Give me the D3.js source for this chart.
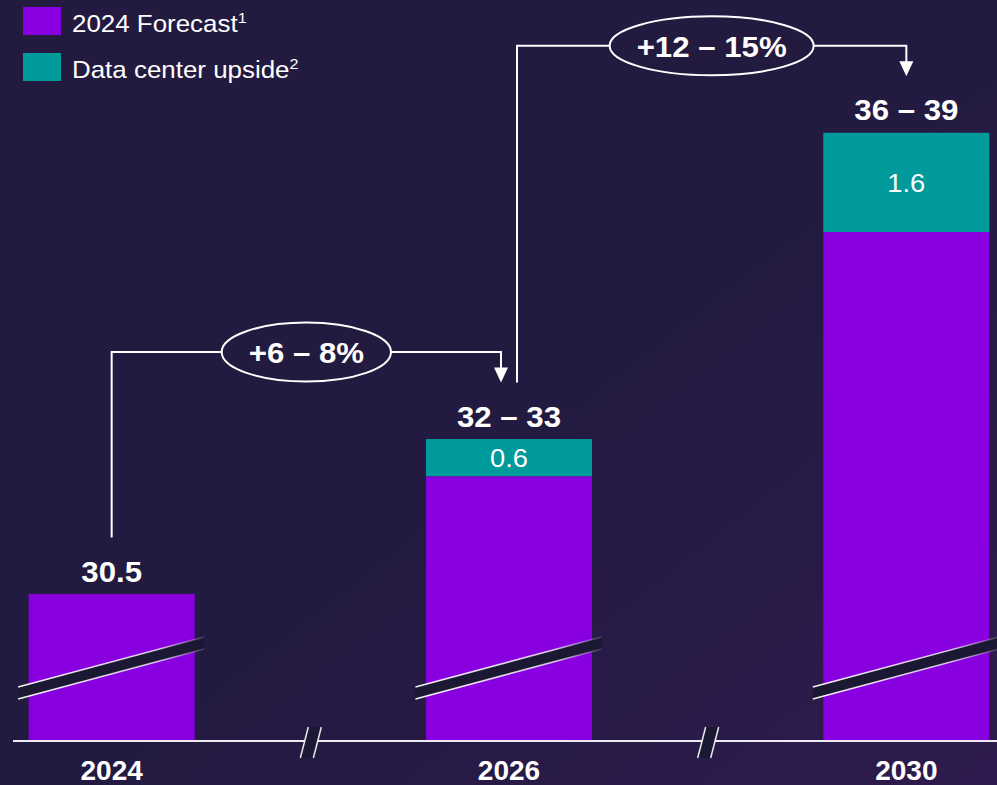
<!DOCTYPE html>
<html>
<head>
<meta charset="utf-8">
<script src="https://cdn.jsdelivr.net/npm/d3@7/dist/d3.min.js"></script>
<style>
  html, body { margin: 0; padding: 0; background: #231a40; }
  svg { display: block; }
  text { font-family: "Liberation Sans", Arial, sans-serif; fill: #ffffff; }
</style>
</head>
<body>
<svg id="chart" width="997" height="785"></svg>
<script>
// Categories and series
const years = ["2024", "2026", "2030"];
const forecast = [30.5, 32.4, 36.34];      // 2024 forecast, base demand
const upside = [0, 0.6, 1.6];              // data center upside on top
const totalLabels = ["30.5", "32 – 33", "36 – 39"];
const growthLabels = ["+6 – 8%", "+12 – 15%"];
const seriesNames = ["2024 Forecast", "Data center upside"];
const seriesNotes = ["1", "2"];

const W = 997, H = 785;
const colors = { forecast: "#8800e0", upside: "#009a9a", bg: "#231a40", breakFill: "#1b1833", line: "#ffffff" };

const svg = d3.select("#chart");

// Places a text at (x, y) with a slight horizontal widening
function placeText(sel, px, py, sx) {
  return sel.attr("x", 0).attr("y", 0).attr("transform", `translate(${px},${py}) scale(${sx},1)`);
}

// Background with a faint lift toward the lower right
const defs = svg.append("defs");
const bgGrad = defs.append("linearGradient").attr("id", "bg").attr("x1", "0").attr("y1", "0").attr("x2", "1").attr("y2", "1");
bgGrad.append("stop").attr("offset", "0").attr("stop-color", "#231a40");
bgGrad.append("stop").attr("offset", "0.55").attr("stop-color", "#231a41");
bgGrad.append("stop").attr("offset", "1").attr("stop-color", "#2f1b4f");
svg.append("rect").attr("width", W).attr("height", H).attr("fill", "url(#bg)");

const edgeGrad = defs.append("linearGradient").attr("id", "edge").attr("x1", "0").attr("x2", "1");
edgeGrad.append("stop").attr("offset", "0").attr("stop-color", "#fff").attr("stop-opacity", 0.95);
edgeGrad.append("stop").attr("offset", "0.75").attr("stop-color", "#fff").attr("stop-opacity", 0.75);
edgeGrad.append("stop").attr("offset", "1").attr("stop-color", "#fff").attr("stop-opacity", 0.15);

// Scales (value axis is truncated, shown by the break marks)
const x = d3.scaleBand().domain(years).range([-87, 1105]).paddingInner(0.582).paddingOuter(0.291);
const y = d3.scaleLinear().domain([28.13, 38.03]).range([741, 127.2]);
const cx = d => x(d) + x.bandwidth() / 2;

const data = years.map((yr, i) => ({ year: yr, base: forecast[i], up: upside[i], total: forecast[i] + upside[i], label: totalLabels[i] }));

// Bars
const g = svg.append("g");
g.selectAll("rect.base").data(data).join("rect")
  .attr("x", d => x(d.year)).attr("width", x.bandwidth())
  .attr("y", d => y(d.base)).attr("height", d => y.range()[0] - y(d.base))
  .attr("fill", colors.forecast);

g.selectAll("rect.up").data(data.filter(d => d.up > 0)).join("rect")
  .attr("x", d => x(d.year)).attr("width", x.bandwidth())
  .attr("y", d => y(d.total)).attr("height", d => y(d.base) - y(d.total))
  .attr("fill", colors.upside);

data.filter(d => d.up > 0).forEach(d => {
  const t = g.append("text").attr("text-anchor", "middle").attr("font-size", 26)
    .text(d3.format(".1f")(d.up));
  placeText(t, cx(d.year), (y(d.base) + y(d.total)) / 2 + 9.5, 1.05);
});

// Slanted break bands across each bar
const bandThick = 12, bandRise = 50;
data.forEach(d => {
  const x0 = x(d.year) - 10.5, x1 = x(d.year) + x.bandwidth() + 9.5;
  const yL = 687, yR = yL - bandRise;
  g.append("path")
    .attr("d", `M${x0},${yL} L${x1},${yR} L${x1},${yR + bandThick} L${x0},${yL + bandThick} Z`)
    .attr("fill", colors.breakFill);
  [0, bandThick].forEach(off => {
    g.append("line")
      .attr("x1", x0).attr("y1", yL + off).attr("x2", x1).attr("y2", yR + off + 0.01)
      .attr("stroke", "url(#edge)").attr("stroke-width", 1.6);
  });
});

// Total labels above bars
const labelBase = d => y(d.total) - 12.5;
data.forEach(d => {
  const t = g.append("text").attr("text-anchor", "middle").attr("font-size", 30).attr("font-weight", "bold")
    .text(d.label);
  placeText(t, cx(d.year), labelBase(d), 1.04);
});

// Category axis with break marks between categories
const axisY = y.range()[0];
g.append("line").attr("x1", 13).attr("x2", W).attr("y1", axisY).attr("y2", axisY)
  .attr("stroke", "#ecebf2").attr("stroke-width", 2.2);

for (let i = 0; i < years.length - 1; i++) {
  const mx = (cx(years[i]) + cx(years[i + 1])) / 2;
  g.append("path")
    .attr("d", `M${mx - 10},758 L${mx - 2},727 L${mx + 11},727 L${mx + 3},758 Z`)
    .attr("fill", colors.breakFill);
  [[mx - 10, mx - 2], [mx + 3, mx + 11]].forEach(([a, b]) => {
    g.append("line").attr("x1", a).attr("y1", 758).attr("x2", b).attr("y2", 727)
      .attr("stroke", "#ffffff").attr("stroke-width", 1.5).attr("stroke-opacity", 0.9);
  });
}

g.selectAll("text.year").data(years).join("text")
  .attr("x", d => cx(d)).attr("y", 780)
  .attr("text-anchor", "middle").attr("font-size", 28).attr("font-weight", "bold")
  .text(d => d);

// Growth connectors between consecutive bars
const topOfLabel = d => labelBase(d) - 21;
growthLabels.forEach((lab, i) => {
  const a = data[i], b = data[i + 1];
  const xa = i === 0 ? cx(a.year) : cx(a.year) + 8;
  const xb = i === 0 ? cx(b.year) - 8 : cx(b.year);
  const ya = topOfLabel(a) - 23;
  const yb = topOfLabel(b) - 23;
  const yLevel = Math.min(ya, yb) - 30.5;
  const stroke = colors.line;

  g.append("path")
    .attr("d", `M${xa},${ya} L${xa},${yLevel} L${xb},${yLevel} L${xb},${yb - 14}`)
    .attr("fill", "none").attr("stroke", stroke).attr("stroke-width", 2);
  g.append("path")
    .attr("d", `M${xb - 7},${yb - 15} L${xb + 7},${yb - 15} L${xb},${yb} Z`)
    .attr("fill", stroke);

  const mx = (xa + xb) / 2;
  const ell = g.append("ellipse").attr("cx", mx).attr("cy", yLevel)
    .attr("fill", colors.bg).attr("stroke", stroke).attr("stroke-width", 2);
  const t = g.append("text").attr("text-anchor", "middle").attr("font-size", 30).attr("font-weight", "bold")
    .text(lab);
  placeText(t, mx, yLevel + 11, 1.04);
  const w = t.node().getComputedTextLength() * 1.04;
  ell.attr("rx", w / 2 + 27).attr("ry", 29.5);
});

// Legend
const legend = svg.append("g");
const legendColors = [colors.forecast, colors.upside];
seriesNames.forEach((name, i) => {
  const yy = 7 + i * 46;
  legend.append("rect").attr("x", 23).attr("y", yy).attr("width", 38).attr("height", 28).attr("fill", legendColors[i]);
  const t = legend.append("text").attr("font-size", 24).text(name);
  t.append("tspan").attr("font-size", 15).attr("dy", -9).text(seriesNotes[i]);
  placeText(t, 72, yy + 25, 1.08);
});
</script>
</body>
</html>
